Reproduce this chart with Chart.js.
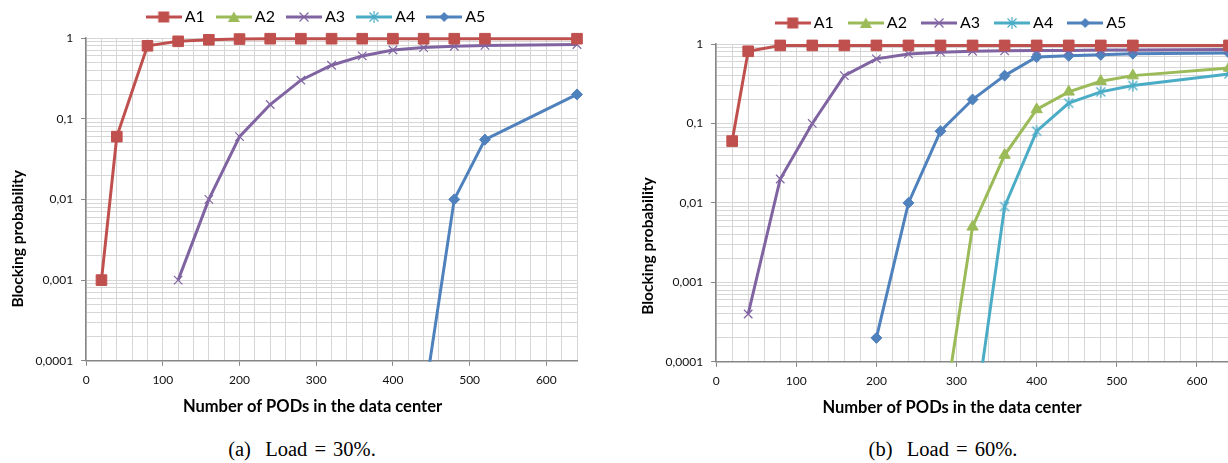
<!DOCTYPE html>
<html>
<head>
<meta charset="utf-8">
<script src="https://cdn.jsdelivr.net/npm/chart.js@4.4.1/dist/chart.umd.min.js"></script>
<style>
  html, body { margin: 0; padding: 0; background: #fff; width: 1228px; height: 463px; overflow: hidden; }
  .panel { position: absolute; }
  #left { left: 0; top: 0; width: 616px; height: 425px; }
  #right { left: 630px; top: 3px; width: 635px; height: 423px; }
  .caption { position: absolute; top: 437px; line-height: 24px; font-family: "Liberation Serif", serif; font-size: 20.5px; word-spacing: 2px; color: #000; white-space: nowrap; transform: translateX(-50%); }
</style>
</head>
<body>
<div class="panel" id="left"><canvas id="chartLeft"></canvas></div>
<div class="panel" id="right"><canvas id="chartRight"></canvas></div>
<div class="caption" style="left:302px">(a)&nbsp; Load = 30%.</div>
<div class="caption" style="left:943px">(b)&nbsp; Load = 60%.</div>
<script>
//** DATA: number of PODs and blocking probability per algorithm */
const pods = [20, 40, 80, 120, 160, 200, 240, 280, 320, 360, 400, 440, 480, 520, 640];
const seriesNames = ["A1", "A2", "A3", "A4", "A5"];

// Load = 30%
const load30A1 = [0.001, 0.06, 0.8, 0.91, 0.95, 0.97, 0.98, 0.98, 0.98, 0.98, 0.98, 0.98, 0.98, 0.98, 0.98];
const load30A2 = [null, null, null, null, null, null, null, null, null, null, null, null, null, null, null];
const load30A3 = [null, null, null, 0.001, 0.01, 0.06, 0.15, 0.3, 0.46, 0.6, 0.71, 0.76, 0.79, 0.81, 0.83];
const load30A4 = [null, null, null, null, null, null, null, null, null, null, null, null, null, null, null];
const load30A5 = [null, null, null, null, null, null, null, null, null, null, null, 0.00003, 0.01, 0.055, 0.2];

// Load = 60%
const load60A1 = [0.06, 0.81, 0.96, 0.96, 0.96, 0.96, 0.96, 0.96, 0.96, 0.96, 0.96, 0.96, 0.96, 0.96, 0.96];
const load60A2 = [null, null, null, null, null, null, null, 0.000012, 0.005, 0.04, 0.15, 0.25, 0.34, 0.4, 0.5];
const load60A3 = [null, 0.0004, 0.02, 0.1, 0.4, 0.65, 0.75, 0.79, 0.81, 0.82, 0.83, 0.83, 0.84, 0.84, 0.85];
const load60A4 = [null, null, null, null, null, null, null, null, 0.000012, 0.009, 0.08, 0.18, 0.25, 0.3, 0.42];
const load60A5 = [null, null, null, null, null, 0.0002, 0.01, 0.08, 0.2, 0.4, 0.685, 0.71, 0.73, 0.755, 0.77];

// axis ticks
const yTickValues = [0.0001, 0.001, 0.01, 0.1, 1];
const yTickLabels = ["0,0001", "0,001", "0,01", "0,1", "1"];

//** STYLES */
const colors = ["#C0504D", "#9BBB59", "#8064A2", "#4BACC6", "#4F81BD"];
const markers = ["rect", "triangle", "crossRot", "asterisk", "rectRot"];
const markerRadius = [7.5, 6.5, 6, 6, 5.5];
const gridColor = "#D6D6D6";
const axisColor = "#868686";
const fontFamily = "Lato, 'Open Sans', sans-serif";
const yTitleFont = { family: fontFamily, size: 15.5, weight: "bold" };

// small asterisk marker (X with a vertical bar) like the spreadsheet one
function asteriskMarker(color) {
  const c = document.createElement("canvas");
  c.width = 14; c.height = 14;
  const g = c.getContext("2d");
  g.strokeStyle = color;
  g.lineWidth = 1.3;
  g.beginPath();
  g.moveTo(2.5, 2.5); g.lineTo(11.5, 11.5);
  g.moveTo(11.5, 2.5); g.lineTo(2.5, 11.5);
  g.moveTo(7, 1); g.lineTo(7, 13);
  g.stroke();
  return c;
}

//** LEGEND ICONS: line with the marker in the middle */
function legendIcon(i) {
  const c = document.createElement("canvas");
  c.width = 36; c.height = 14;
  const g = c.getContext("2d");
  const col = colors[i];
  g.strokeStyle = col;
  g.fillStyle = col;
  g.lineWidth = 3;
  g.beginPath(); g.moveTo(0, 7); g.lineTo(36, 7); g.stroke();
  g.lineWidth = 1.2;
  g.beginPath();
  if (markers[i] === "rect") {
    g.fillRect(12.5, 1.5, 11, 11);
  } else if (markers[i] === "triangle") {
    g.moveTo(18, 1.5); g.lineTo(24, 12); g.lineTo(12, 12); g.closePath(); g.fill();
  } else if (markers[i] === "crossRot") {
    g.moveTo(13.5, 2.5); g.lineTo(22.5, 11.5); g.moveTo(22.5, 2.5); g.lineTo(13.5, 11.5); g.stroke();
  } else if (markers[i] === "asterisk") {
    g.moveTo(13.5, 2.5); g.lineTo(22.5, 11.5); g.moveTo(22.5, 2.5); g.lineTo(13.5, 11.5);
    g.moveTo(18, 1); g.lineTo(18, 13); g.stroke();
  } else {
    g.moveTo(18, 2); g.lineTo(23, 7); g.lineTo(18, 12); g.lineTo(13, 7); g.closePath(); g.fill();
  }
  return c;
}
const legendIcons = colors.map(function (c, i) { return legendIcon(i); });

//** Y TITLE sits lower than the plot centre, pad it with trailing no-break spaces */
function shiftedTitle(text, shiftPx) {
  const g = document.createElement("canvas").getContext("2d");
  g.font = "bold " + yTitleFont.size + "px " + fontFamily;
  const space = g.measureText("\u00A0").width || 4;
  const n = Math.max(0, Math.round((4 * shiftPx) / space));
  return text + "\u00A0".repeat(n);
}

// moves the legend row without touching the plot
const legendShift = {
  id: "legendShift",
  afterLayout: function (chart, args, opts) {
    if (chart.legend) {
      chart.legend.left += opts.dx;
      chart.legend.right += opts.dx;
      chart.legend.top += opts.dy;
      chart.legend.bottom += opts.dy;
    }
  },
};

function toPoints(values) {
  return pods.map(function (x, i) { return { x: x, y: values[i] }; });
}

function makeDatasets(seriesValues) {
  return seriesValues.map(function (values, i) {
    const style = markers[i] === "asterisk" ? asteriskMarker(colors[i]) : markers[i];
    return {
      label: seriesNames[i],
      data: toPoints(values),
      borderColor: colors[i],
      backgroundColor: colors[i],
      borderWidth: 3,
      pointStyle: style,
      pointRadius: markerRadius[i],
      pointBorderWidth: markers[i] === "crossRot" ? 1.2 : 1,
      pointBorderColor: colors[i],
      pointBackgroundColor: colors[i],
      tension: 0,
      spanGaps: false,
      clip: { left: 12, top: 12, right: 12, bottom: 1 },
    };
  });
}

function makeChart(canvasId, seriesValues, rightGap, yTitleShift, legendPadding, legendDx) {
  return new Chart(document.getElementById(canvasId), {
    type: "line",
    data: { datasets: makeDatasets(seriesValues) },
    plugins: [legendShift],
    options: {
      responsive: true,
      maintainAspectRatio: false,
      animation: false,
      layout: { padding: { top: -4, right: 0, left: 9, bottom: 6.5 } },
      plugins: {
        tooltip: { enabled: false },
        legendShift: { dx: legendDx, dy: -3 },
        legend: {
          display: true,
          position: "top",
          labels: {
            usePointStyle: true,
            pointStyleWidth: 26,
            padding: legendPadding,
            color: "#000",
            font: { family: fontFamily, size: 16 },
            generateLabels: function (chart) {
              return Chart.defaults.plugins.legend.labels.generateLabels(chart).map(function (item, i) {
                item.pointStyle = legendIcons[i];
                return item;
              });
            },
          },
        },
        title: {
          display: true,
          position: "bottom",
          text: "Number of PODs in the data center",
          color: "#000",
          font: { family: fontFamily, size: 16.5, weight: "bold" },
          padding: { top: 2.5, bottom: 2 },
        },
      },
      scales: {
        x: {
          type: "linear",
          min: 0,
          max: 640,
          grid: {
            color: gridColor,
            tickLength: 5,
            tickColor: function (ctx) {
              return ctx.tick && ctx.tick.value % 100 === 0 ? axisColor : "rgba(0,0,0,0)";
            },
          },
          border: { color: axisColor, width: 1.5 },
          ticks: {
            stepSize: 20,
            autoSkip: false,
            maxRotation: 0,
            padding: 7,
            color: "#111",
            font: { family: fontFamily, size: 12 },
            callback: function (v) { return v % 100 === 0 ? String(v) : ""; },
          },
        },
        y: {
          type: "logarithmic",
          min: 0.0001,
          max: 1,
          afterBuildTicks: function (scale) {
            const ticks = [];
            for (let d = 0; d < yTickValues.length - 1; d++) {
              for (let k = 1; k < 10; k++) ticks.push({ value: yTickValues[d] * k });
            }
            ticks.push({ value: 1 });
            scale.ticks = ticks;
          },
          grid: {
            color: gridColor,
            tickLength: 5,
            tickColor: function (ctx) {
              return ctx.tick && yTickValues.some(function (v) { return Math.abs(v - ctx.tick.value) < v * 1e-6; }) ? axisColor : "rgba(0,0,0,0)";
            },
          },
          border: { color: axisColor, width: 1.5 },
          ticks: {
            autoSkip: false,
            padding: 8,
            color: "#111",
            font: { family: fontFamily, size: 12 },
            callback: function (v) {
              const i = yTickValues.findIndex(function (t) { return Math.abs(t - v) < t * 1e-6; });
              return i >= 0 ? yTickLabels[i] : "";
            },
          },
          title: {
            display: true,
            text: shiftedTitle("Blocking probability", yTitleShift),
            color: "#000",
            font: yTitleFont,
            padding: { top: 0, bottom: 0 },
          },
        },
        // empty right margin so legend and x title centre on the whole panel
        margin: {
          type: "linear",
          position: "right",
          display: true,
          grid: { display: false },
          border: { display: false },
          ticks: { display: false },
          afterFit: function (scale) { scale.width = rightGap; },
        },
      },
    },
  });
}

const chartLeft = makeChart("chartLeft", [load30A1, load30A2, load30A3, load30A4, load30A5], 39, 20, 16, 5.5);
const chartRight = makeChart("chartRight", [load60A1, load60A2, load60A3, load60A4, load60A5], 36, 22, 19, 1);
</script>
</body>
</html>
